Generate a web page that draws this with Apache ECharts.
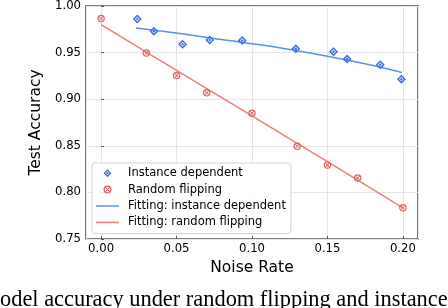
<!DOCTYPE html>
<html>
<head>
<meta charset="utf-8">
<script src="https://cdn.jsdelivr.net/npm/echarts@6/dist/echarts.min.js"></script>
<style>
html,body{margin:0;padding:0;background:#fff;}
#chart{width:448px;height:308px;}
</style>
</head>
<body>
<div id="chart"></div>
<script>
// ---- data ----
const noiseInstance = [0.024, 0.035, 0.054, 0.072, 0.0935, 0.129, 0.154, 0.163, 0.185, 0.199];
const accInstance   = [0.986, 0.973, 0.959, 0.9635, 0.963, 0.954, 0.951, 0.943, 0.937, 0.9215];
const noiseRandom = [0.00, 0.03, 0.05, 0.07, 0.10, 0.13, 0.15, 0.17, 0.20];
const accRandom   = [0.9865, 0.9495, 0.9255, 0.907, 0.885, 0.8495, 0.8295, 0.8155, 0.7835];
// fitted curves, sampled along the drawn lines
const fitInstanceX = [0.023, 0.0522, 0.0800, 0.1124, 0.1500, 0.1780, 0.1993];
const fitInstanceY = [0.9763, 0.9705, 0.9640, 0.9567, 0.9460, 0.9369, 0.9287];
const fitRandomX = [0.00, 0.05, 0.10, 0.15, 0.20];
const fitRandomY = [0.980, 0.931, 0.882, 0.833, 0.7835];
const xTicks = [0.00, 0.05, 0.10, 0.15, 0.20];
const yTicks = [0.75, 0.80, 0.85, 0.90, 0.95, 1.00];
const seriesNames = ['Instance dependent', 'Random flipping', 'Fitting: instance dependent', 'Fitting: random flipping'];
const xTitle = 'Noise Rate';
const yTitle = 'Test Accuracy';
const captionText = 'odel accuracy under random flipping and instance';

const zip = (xs, ys) => xs.map((x, i) => [x, ys[i]]);

const diamondPath = 'path://M5,0L10,5L5,10L0,5ZM5,2.3L2.3,5L5,7.7L7.7,5ZM5,3.3L6.7,5L5,6.7L3.3,5Z';
const circleXPath = 'path://M5,0A5,5 0 0 1 10,5A5,5 0 0 1 5,10A5,5 0 0 1 0,5A5,5 0 0 1 5,0Z' +
  'M5,1.6A3.4,3.4 0 0 0 1.6,5A3.4,3.4 0 0 0 5,8.4A3.4,3.4 0 0 0 8.4,5A3.4,3.4 0 0 0 5,1.6Z' +
  'M2.3,3.1L3.1,2.3L7.7,6.9L6.9,7.7ZM6.9,2.3L7.7,3.1L3.1,7.7L2.3,6.9Z';
const lineIcon = 'path://M0,0H23V1.5H0Z';

const blueMark = '#3f6fe6';
const blueLine = '#5b8ff0';
const redMark = '#e06262';
const redLine = '#f07c7c';
const FONT = 'DejaVu Sans';

const isTick = (v, arr) => arr.some(t => Math.abs(t - v) < 1e-9);

const chart = echarts.init(document.getElementById('chart'), null, {renderer: 'canvas'});
chart.setOption({
  animation: false,
  backgroundColor: '#fff',
  textStyle: {fontFamily: FONT},
  grid: {left: 86, right: 30, top: 4, bottom: 69, show: true, borderColor: '#555', borderWidth: 1.6, backgroundColor: 'transparent'},
  xAxis: {
    type: 'value', min: -0.01, max: 0.21, splitNumber: 5,
    name: xTitle, nameLocation: 'middle', nameGap: 18,
    nameTextStyle: {fontFamily: FONT, fontSize: 15.5, color: '#000', verticalAlign: 'top'},
    axisLine: {show: false},
    axisTick: {show: true, inside: true, length: 3, lineStyle: {color: '#555'}},
    axisLabel: {fontFamily: FONT, fontSize: 11.7, color: '#000', margin: 4, showMinLabel: false, showMaxLabel: false,
      formatter: v => isTick(v, xTicks) ? v.toFixed(2) : ''},
    splitLine: {show: true, lineStyle: {color: '#e6e6e6', width: 1}}
  },
  yAxis: {
    type: 'value', min: 0.75, max: 1.0, interval: 0.05,
    name: yTitle, nameLocation: 'middle', nameGap: 36, nameRotate: 90,
    nameTextStyle: {fontFamily: FONT, fontSize: 15.5, color: '#000'},
    axisLine: {show: false},
    axisTick: {show: true, inside: true, length: 3, lineStyle: {color: '#555'}},
    axisLabel: {fontFamily: FONT, fontSize: 11.7, color: '#000', margin: 5,
      formatter: v => isTick(v, yTicks) ? v.toFixed(2) : ''},
    splitLine: {show: true, lineStyle: {color: '#e6e6e6', width: 1}}
  },
  legend: {
    orient: 'vertical', left: 92, top: 163,
    padding: [4, 5, 5, 4],
    backgroundColor: 'rgba(255,255,255,0.85)',
    borderColor: '#d4d4d4', borderWidth: 1, borderRadius: 3,
    itemWidth: 23, itemHeight: 8, itemGap: 4,
    textStyle: {fontFamily: FONT, fontSize: 11.5, color: '#000', lineHeight: 12.4, padding: [0, 0, 0, 4]},
    data: [
      {name: seriesNames[0]},
      {name: seriesNames[1]},
      {name: seriesNames[2], icon: lineIcon, itemStyle: {color: blueLine, borderWidth: 0}},
      {name: seriesNames[3], icon: lineIcon, itemStyle: {color: redLine, borderWidth: 0}}
    ]
  },
  series: [
    {name: seriesNames[0], type: 'scatter', data: zip(noiseInstance, accInstance), symbol: diamondPath, symbolSize: 9,
      itemStyle: {color: blueMark, opacity: 1}, z: 5},
    {name: seriesNames[1], type: 'scatter', data: zip(noiseRandom, accRandom), symbol: circleXPath, symbolSize: 7.5,
      itemStyle: {color: redMark, opacity: 1}, z: 5},
    {name: seriesNames[2], type: 'line', data: zip(fitInstanceX, fitInstanceY), smooth: 0.3, symbol: 'none',
      lineStyle: {color: blueLine, width: 1.5}, itemStyle: {color: blueLine}, z: 3},
    {name: seriesNames[3], type: 'line', data: zip(fitRandomX, fitRandomY), smooth: 0.3, symbol: 'none',
      lineStyle: {color: redLine, width: 1.5}, itemStyle: {color: redLine}, z: 3}
  ],
  graphic: [{
    type: 'text', left: 0, top: 289, silent: true,
    style: {text: captionText, font: '22.4px "Liberation Serif"', fill: '#000'}
  }]
});
</script>
</body>
</html>
